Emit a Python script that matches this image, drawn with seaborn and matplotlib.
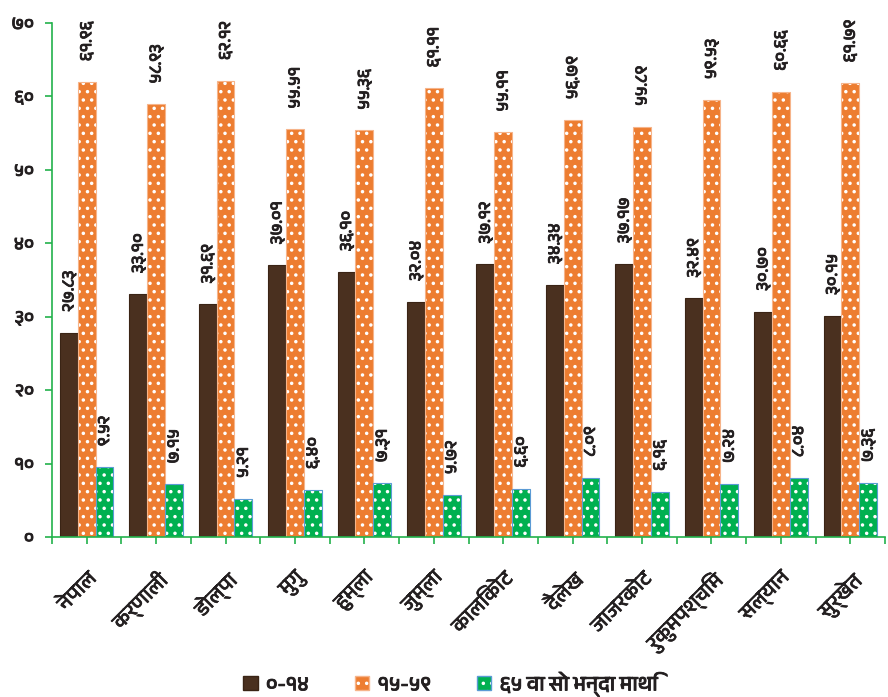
import pandas as pd
import matplotlib
matplotlib.use('Agg')
import matplotlib.pyplot as plt
import matplotlib.patheffects as pe
import seaborn as sns
from matplotlib import font_manager
from matplotlib.ft2font import FT2Font
from matplotlib.patches import Patch

# data
districts = ['नेपाल', 'कर्णाली', 'डोल्पा', 'मुगु', 'हुम्ला', 'जुम्ला', 'कालिकोट',
             'दैलेख', 'जाजरकोट', 'रुकुमपश्चिम', 'सल्यान', 'सुर्खेत']
age_0_14 = [27.83, 33.10, 31.69, 37.01, 36.10, 32.04, 37.12, 34.34, 37.17, 32.49, 30.70, 30.15]
age_15_59 = [61.96, 58.93, 62.12, 55.51, 55.36, 61.11, 55.11, 56.79, 55.89, 59.53, 60.66, 61.79]
age_65_up = [9.52, 7.15, 5.21, 6.40, 7.31, 5.72, 6.60, 8.09, 6.16, 7.24, 8.04, 7.36]
groups = ['०-१४', '१५-५९', '६५ वा सो भन्दा माथि']
yticks = [0, 10, 20, 30, 40, 50, 60, 70]

colors = ['#4a301f', '#ED7D31', '#00B050']
edges = ['#3a2415', '#f6b48a', '#5B9BD5']
axis_green = '#22b24c'
text_dark = '#231f20'

# find a font that can draw Devanagari
deva = None
cands = []
for f in font_manager.fontManager.ttflist:
    try:
        if 0x0928 in FT2Font(f.fname).get_charmap():
            cands.append(f.name)
    except Exception:
        pass
for c in cands:
    if 'Devanagari' in c:
        deva = c
        break
if deva is None and cands:
    deva = cands[0]

sns.set_style('white')
plt.rcParams['font.family'] = ([deva] if deva else []) + ['DejaVu Sans']
plt.rcParams['hatch.linewidth'] = 1.3

dev_digits = str.maketrans('0123456789', '०१२३४५६७८९')


def to_dev(s):
    return str(s).translate(dev_digits)


bold = [pe.withStroke(linewidth=0.6, foreground=text_dark)]

df = pd.DataFrame({
    'district': districts * 3,
    'value': age_0_14 + age_15_59 + age_65_up,
    'group': [groups[0]] * 12 + [groups[1]] * 12 + [groups[2]] * 12,
})

fig = plt.figure(figsize=(8.88, 6.97), dpi=100)
ax = fig.add_axes([0.0586, 0.2296, 0.938, 0.7374])

sns.barplot(data=df, x='district', y='value', hue='group', hue_order=groups,
            palette=colors, width=0.77, saturation=1, legend=False, ax=ax)

hatches = ['', '..', '..']
for i, cont in enumerate(ax.containers):
    for bar in cont:
        bar.set_edgecolor(edges[i])
        bar.set_linewidth(0.8)
        bar.set_hatch(hatches[i])
        bar._hatch_color = (1, 1, 1, 1)
    txts = ax.bar_label(cont, labels=[to_dev(f'{v:.2f}') for v in cont.datavalues],
                        rotation=90, padding=15, fontsize=12.5, color=text_dark)
    for t in txts:
        t.set_path_effects(bold)

ax.set_ylim(0, 70)
ax.set_xlim(-0.5, 11.5)
ax.set_yticks(yticks)
ax.set_yticklabels([to_dev(t) for t in yticks], fontsize=13, color=text_dark)
for t in ax.get_yticklabels():
    t.set_path_effects(bold)
ax.set_xticks(range(len(districts)))
ax.set_xticklabels(districts, rotation=45, ha='right', rotation_mode='anchor',
                   fontsize=15, color=text_dark)
for t in ax.get_xticklabels():
    t.set_path_effects([pe.withStroke(linewidth=0.4, foreground=text_dark)])
ax.set_xticks([i - 0.5 for i in range(len(districts) + 1)], minor=True)
ax.tick_params(axis='x', which='both', direction='out', length=5, color=axis_green,
               width=1.2, bottom=True, pad=18)
ax.tick_params(axis='y', direction='out', length=5, color=axis_green, width=1.2,
               left=True, pad=8)
ax.set_xlabel('')
ax.set_ylabel('')
sns.despine(ax=ax)
for s in ['left', 'bottom']:
    ax.spines[s].set_color(axis_green)
    ax.spines[s].set_linewidth(1.2)

handles = [Patch(facecolor=colors[i], edgecolor=edges[i], hatch=hatches[i]) for i in range(3)]
for h in handles[1:]:
    h._hatch_color = (1, 1, 1, 1)
leg = fig.legend(handles, groups, loc='center', bbox_to_anchor=(0.507, 0.018), ncol=3,
                 frameon=False, fontsize=15, handlelength=0.7, handleheight=0.7,
                 handletextpad=0.4, columnspacing=2.2, labelcolor=text_dark)
for t in leg.get_texts():
    t.set_path_effects(bold)

fig.savefig('out.png', dpi=100)
